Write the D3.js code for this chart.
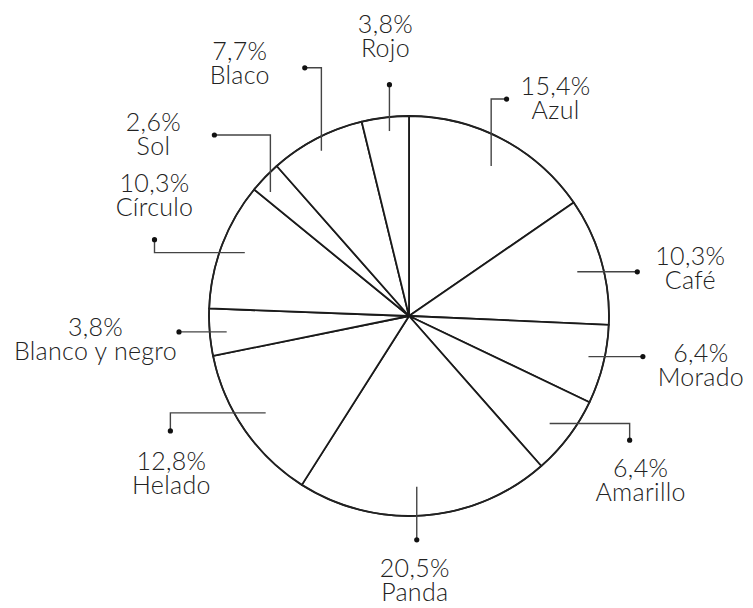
<!DOCTYPE html>
<html>
<head>
<meta charset="utf-8">
<script src="https://cdn.jsdelivr.net/npm/d3@7/dist/d3.min.js"></script>
<style>
  html, body { margin: 0; padding: 0; background: #fff; }
  svg text { font-family: Lato, "Open Sans", sans-serif; font-weight: 300; fill: #222; }
</style>
</head>
<body>
<svg id="chart" width="753" height="608"></svg>
<script>
// Slice names, clockwise from 12 o'clock
const categories = ["Azul", "Café", "Morado", "Amarillo", "Panda", "Helado",
                    "Blanco y negro", "Círculo", "Sol", "Blaco", "Rojo"];
// Share of each slice, in percent
const shares = [15.4, 10.3, 6.4, 6.4, 20.5, 12.8, 3.8, 10.3, 2.6, 7.7, 3.8];

// Leader-line routing for each slice: start on the slice's bisector
// (nudged by adj degrees) at radius r, then run along route axes.
const leaderLayout = [
  { adj:  1.0, r: 171, route: "vh", a: -67,   b: 15.4, lx:  49,   ly: -4  },
  { adj:  1.3, r: 174, route: "h",  a: 60,    b: 0,    lx:  53,   ly: -7  },
  { adj: -1.3, r: 184, route: "h",  a: 54.4,  b: 0,    lx:  58,   ly:  5  },
  { adj:  0.3, r: 177, route: "hv", a: 80,    b: 16.7, lx:  11,   ly: 37  },
  { adj:  1.9, r: 171, route: "v",  a: 53,    b: 0,    lx: -2,    ly: 37  },
  { adj:  0.5, r: 173, route: "hv", a: -95.3, b: 18,   lx:  1,    ly: 39  },
  { adj: -0.3, r: 183, route: "h",  a: -47.7, b: 0,    lx: -83.5, ly:  4  },
  { adj:  0.4, r: 176, route: "hv", a: -90.3, b: -13,  lx:  0,    ly: -48 },
  { adj: -2.1, r: 186, route: "vh", a: -57,   b: -56,  lx: -61,   ly: -4  },
  { adj: -0.4, r: 187, route: "vh", a: -83,   b: -16.6,lx: -65,   ly: -8  },
  { adj:  0.8, r: 186, route: "v",  a: -46.4, b: 0,    lx: -4,    ly: -52 }
];

const cx = 409, cy = 316, R = 200;
const lineHeight = 24;
const fmt = v => v.toFixed(1).replace(".", ",") + "%";

const svg = d3.select("#chart");
const g = svg.append("g").attr("transform", `translate(${cx},${cy})`);

const data = categories.map((c, i) => ({ name: c, value: shares[i], layout: leaderLayout[i] }));

const pie = d3.pie().sort(null).value(d => d.value).startAngle(0).endAngle(2 * Math.PI);
const arc = d3.arc().innerRadius(0).outerRadius(R);
const arcs = pie(data);

// Slices: white fill, dark separators
g.selectAll("path.slice")
  .data(arcs)
  .join("path")
  .attr("class", "slice")
  .attr("d", arc)
  .attr("fill", "#fff")
  .attr("stroke", "#1a1a1a")
  .attr("stroke-width", 1.8)
  .attr("stroke-linejoin", "round");

// Outer rim
g.append("circle")
  .attr("r", R)
  .attr("fill", "none")
  .attr("stroke", "#222")
  .attr("stroke-width", 1.5);

// Leader lines, dots, labels
arcs.forEach(d => {
  const L = d.data.layout;
  const ang = (d.startAngle + d.endAngle) / 2 + L.adj * Math.PI / 180;
  const x0 = Math.sin(ang) * L.r, y0 = -Math.cos(ang) * L.r;
  const pts = [[x0, y0]];
  let x = x0, y = y0;
  if (L.route === "v")  { y += L.a; pts.push([x, y]); }
  if (L.route === "h")  { x += L.a; pts.push([x, y]); }
  if (L.route === "vh") { y += L.a; pts.push([x, y]); x += L.b; pts.push([x, y]); }
  if (L.route === "hv") { x += L.a; pts.push([x, y]); y += L.b; pts.push([x, y]); }

  g.append("path")
    .attr("d", d3.line()(pts))
    .attr("fill", "none")
    .attr("stroke", "#444")
    .attr("stroke-width", 1.4);

  g.append("circle")
    .attr("cx", x).attr("cy", y).attr("r", 2.6)
    .attr("fill", "#111");

  const t = g.append("text")
    .attr("text-anchor", "middle")
    .attr("font-size", 25)
    .attr("letter-spacing", 0.3)
    .attr("x", x + L.lx)
    .attr("y", y + L.ly);
  t.append("tspan").attr("x", x + L.lx).text(fmt(d.data.value));
  t.append("tspan").attr("x", x + L.lx).attr("dy", lineHeight).text(d.data.name);
});
</script>
</body>
</html>
